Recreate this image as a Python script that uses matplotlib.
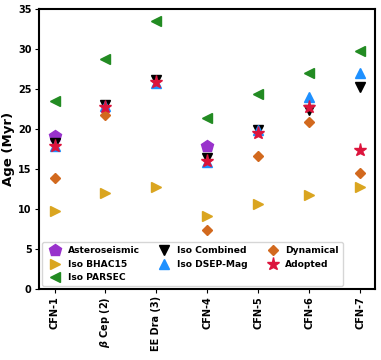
import numpy as np
import matplotlib.pyplot as plt

plt.rcParams['font.weight'] = 'bold'
plt.rcParams['axes.labelweight'] = 'bold'

stars = ['CFN-1', r'$\beta$ Cep (2)', 'EE Dra (3)', 'CFN-4', 'CFN-5', 'CFN-6', 'CFN-7']

# ages in Myr, nan where there is no estimate
astero = [19.1, np.nan, np.nan, 17.9, np.nan, np.nan, np.nan]
iso_bhac15 = [9.7, 12.0, 12.7, 9.1, 10.6, 11.7, 12.7]
iso_parsec = [23.5, 28.7, 33.5, 21.3, 24.4, 27.0, 29.8]
iso_combined = [18.2, 23.0, 26.1, 16.3, 19.8, 22.3, 25.2]
iso_dsep = [17.8, 22.9, 25.8, 15.8, 19.9, 24.0, 27.0]
dynamical = [13.9, 21.7, np.nan, 7.4, 16.6, 20.9, 14.5]
adopted = [17.9, 22.8, 25.9, 16.0, 19.5, 22.8, 17.3]

x = np.arange(len(stars))

fig, ax = plt.subplots(figsize=(3.81, 3.6), dpi=100)

ax.plot(x, astero, 'p', color='darkorchid', ms=9, label='Asteroseismic')
ax.plot(x, iso_bhac15, '>', color='goldenrod', ms=6.5, label='Iso BHAC15')
ax.plot(x, iso_parsec, '<', color='forestgreen', ms=6.5, label='Iso PARSEC')
ax.plot(x, iso_combined, 'v', color='black', ms=7, label='Iso Combined')
ax.plot(x, iso_dsep, '^', color='dodgerblue', ms=6.5, label='Iso DSEP-Mag')
ax.plot(x, dynamical, 'D', color='chocolate', ms=5.5, label='Dynamical')
ax.plot(x, adopted, '*', color='crimson', ms=9.5, label='Adopted')

ax.set_xticks(x)
ax.set_xticklabels(stars, rotation=90, fontsize=7, fontweight='bold')
ax.set_xlim(-0.3, 6.3)
ax.set_ylim(0, 35)
ax.set_ylabel('Age (Myr)', fontsize=9.5, fontweight='bold', labelpad=2)
ax.tick_params(axis='y', labelsize=7, pad=2.5, length=3)
ax.tick_params(axis='x', pad=2.5, length=3)
for lab in ax.get_yticklabels():
    lab.set_fontweight('bold')
for sp in ax.spines.values():
    sp.set_linewidth(1.5)

ax.legend(ncol=3, loc='lower left', fontsize=6.6, handletextpad=0.4,
          columnspacing=1.7, borderaxespad=0.3)

fig.subplots_adjust(left=0.103, right=0.985, top=0.975, bottom=0.198)
fig.savefig('out.png')
